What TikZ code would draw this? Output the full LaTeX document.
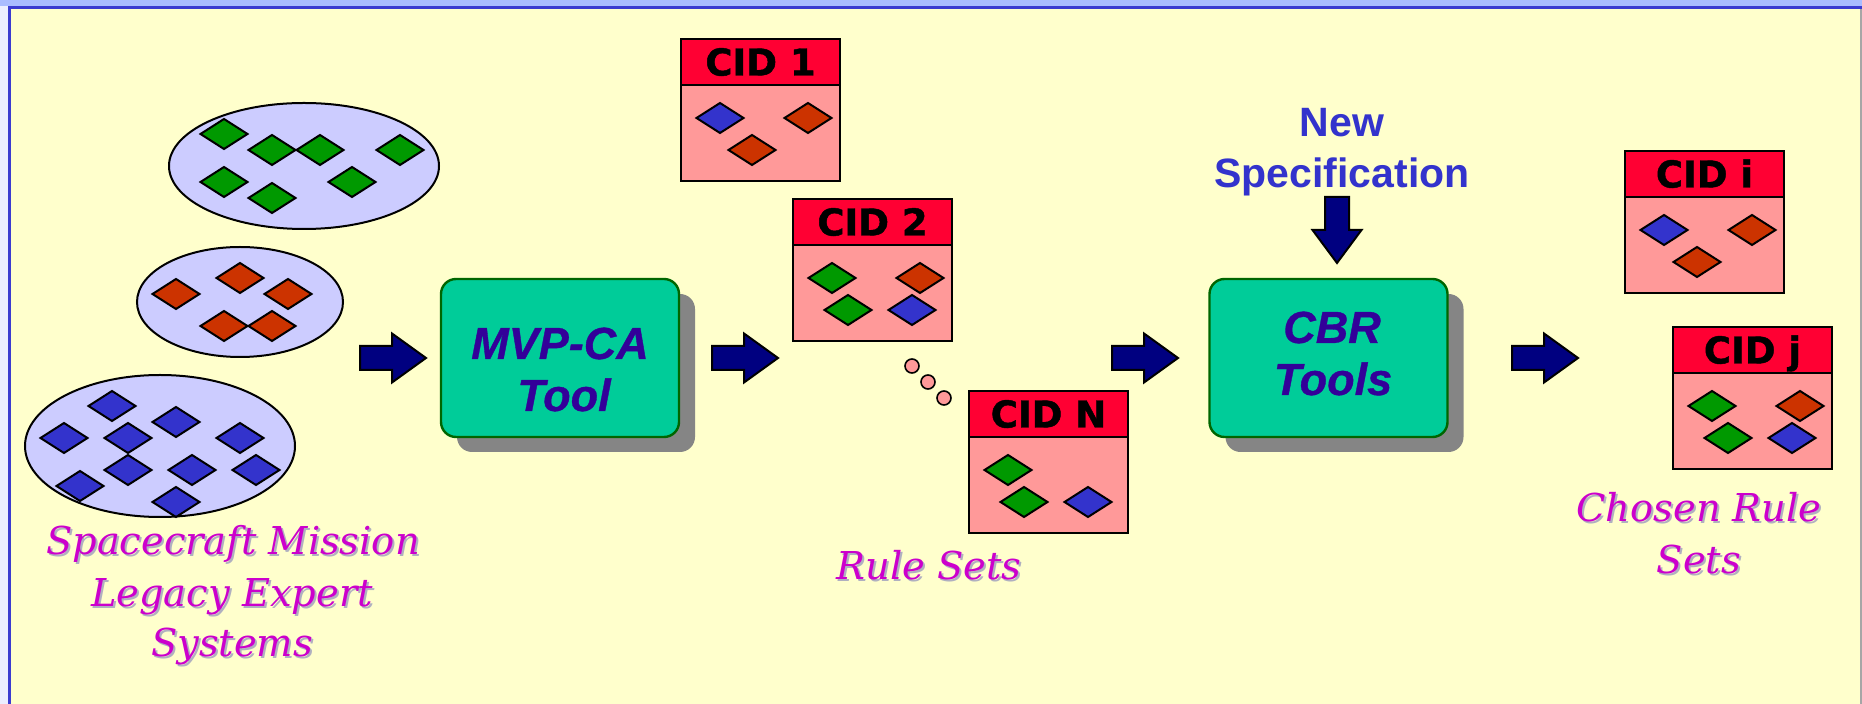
\documentclass[tikz,border=0pt]{standalone}
\usepackage{fontspec}
\setmainfont{Liberation Sans}
\newfontfamily\heavysans{Liberation Sans}[BoldItalicFeatures={FakeBold=0.8}]
\newfontfamily\dvs{DejaVu Sans}[BoldFeatures={FakeBold=1.2}]
\newfontfamily\dvserif{DejaVu Serif}
\usetikzlibrary{shapes.geometric,shadows}
\definecolor{bgy}{HTML}{FFFFCC}
\definecolor{leftc}{HTML}{ECEEFF}
\definecolor{topc}{HTML}{AABCFF}
\definecolor{framec}{HTML}{3B3BD0}
\definecolor{ellfill}{HTML}{CCCCFF}
\definecolor{dgreen}{HTML}{009900}
\definecolor{dred}{HTML}{CC3300}
\definecolor{dblue}{HTML}{3333CC}
\definecolor{boxfill}{HTML}{00CC99}
\definecolor{boxline}{HTML}{006600}
\definecolor{shadowgray}{HTML}{858585}
\definecolor{tooltext}{HTML}{330099}
\definecolor{navy}{HTML}{000080}
\definecolor{cidred}{HTML}{FF0033}
\definecolor{cidpink}{HTML}{FF9999}
\definecolor{magentac}{HTML}{CC00CC}
\definecolor{specc}{HTML}{3333CC}
\definecolor{txtshadow}{HTML}{B0B0C0}
\newcommand\dmd[3]{\filldraw[fill=#3, draw=black, line width=1pt, line join=miter] (#1-23.5,#2) -- (#1,#2-15) -- (#1+23.5,#2) -- (#1,#2+15) -- cycle;}
\newcommand\cidbox[4]{%
  \node[cidb] (#1b) at (#2+79.5,#3+94) {};
  \node[cidh] (#1h) at (#2+79.5,#3+23) {#4};}
\newcommand\shtext[4]{%
  \node[lbl, text=txtshadow] (#1s) at (#2+2,#3+2) {#4};
  \node[lbl] (#1) at (#2,#3) {#4};}
\begin{document}
\begin{tikzpicture}[x=0.5pt,y=-0.5pt,
  ell/.style={ellipse, draw=black, line width=1pt, fill=ellfill, inner sep=0pt},
  tool/.style={draw=boxline, line width=1.2pt, fill=boxfill, rounded corners=7.5pt,
    minimum width=119pt, minimum height=79pt, inner sep=0pt,
    drop shadow={shadow xshift=8pt, shadow yshift=-7.5pt, fill=shadowgray, opacity=1}},
  tooltxt/.style={font=\heavysans\fontsize{22.5}{26}\selectfont\bfseries\itshape, text=tooltext, anchor=base, inner sep=0pt},
  spec/.style={font=\fontsize{20.5}{24}\selectfont\bfseries, text=specc, anchor=base, inner sep=0pt},
  lbl/.style={font=\dvserif\itshape\fontsize{19.2}{23}\selectfont, text=magentac, anchor=base, inner sep=0pt},
  cidh/.style={draw=black, line width=1.2pt, fill=cidred, minimum width=79.5pt, minimum height=23pt,
    inner sep=0pt, text height=13.5pt, text depth=0pt, font=\dvs\bfseries\fontsize{18.5}{20}\selectfont},
  cidb/.style={draw=black, line width=1.2pt, fill=cidpink, minimum width=79.5pt, minimum height=48pt, inner sep=0pt},
  dotc/.style={circle, draw=black, line width=0.8pt, fill=cidpink, minimum size=7pt, inner sep=0pt},
  barrow/.style={fill=navy, draw=black, line width=1pt, line join=miter}]
\useasboundingbox (0,0) rectangle (1862,704);
% frame
\fill[bgy] (0,0) rectangle (1862,704);
\fill[leftc] (0,0) rectangle (8,704);
\fill[topc] (0,0) rectangle (1862,6);
\fill[framec] (8,6) rectangle (11,704);
\fill[framec] (8,6) rectangle (1862,9);
\fill[gray!70] (1860,9) rectangle (1862,704);
% ellipses
\node[ell, minimum width=135pt, minimum height=63pt] (e1) at (304,166) {};
\node[ell, minimum width=103pt, minimum height=55pt] (e2) at (240,302) {};
\node[ell, minimum width=135pt, minimum height=71pt] (e3) at (160,446) {};
\dmd{224}{134}{dgreen}\dmd{272}{150}{dgreen}\dmd{320}{150}{dgreen}\dmd{400}{150}{dgreen}
\dmd{224}{182}{dgreen}\dmd{272}{198}{dgreen}\dmd{352}{182}{dgreen}
\dmd{176}{294}{dred}\dmd{240}{278}{dred}\dmd{288}{294}{dred}\dmd{224}{326}{dred}\dmd{272}{326}{dred}
\dmd{112}{406}{dblue}\dmd{176}{422}{dblue}\dmd{64}{438}{dblue}\dmd{128}{438}{dblue}\dmd{240}{438}{dblue}
\dmd{128}{470}{dblue}\dmd{192}{470}{dblue}\dmd{256}{470}{dblue}\dmd{80}{486}{dblue}\dmd{176}{502}{dblue}
% labels
\shtext{l1}{233}{555}{Spacecraft Mission}
\shtext{l2}{232}{607}{Legacy Expert}
\shtext{l3}{232}{657}{Systems}
\shtext{r1}{929}{580}{Rule Sets}
\shtext{c1}{1699}{522}{Chosen Rule}
\shtext{c2}{1699}{574}{Sets}
% tool boxes
\node[tool] (mvp) at (560,358) {};
\node[tooltxt] (mvpt1) at (560,359) {MVP-CA};
\node[tooltxt] (mvpt2) at (564,411) {Tool};
\node[tool] (cbr) at (1328.5,358) {};
\node[tooltxt] (cbrt1) at (1332,343) {CBR};
\node[tooltxt] (cbrt2) at (1333,395) {Tools};
% new specification
\node[spec] (ns1) at (1342,137) {New};
\node[spec] (ns2) at (1342,188) {Specification};
% CID boxes
\cidbox{cid1}{681}{39}{CID 1}
\dmd{720}{118}{dblue}\dmd{808}{118}{dred}\dmd{752}{150}{dred}
\cidbox{cid2}{793}{199}{CID 2}
\dmd{832}{278}{dgreen}\dmd{920}{278}{dred}\dmd{848}{310}{dgreen}\dmd{912}{310}{dblue}
\cidbox{cidn}{969}{391}{CID N}
\dmd{1008}{470}{dgreen}\dmd{1024}{502}{dgreen}\dmd{1088}{502}{dblue}
\cidbox{cidi}{1625}{151}{CID i}
\dmd{1664}{230}{dblue}\dmd{1752}{230}{dred}\dmd{1697}{262}{dred}
\cidbox{cidj}{1673}{327}{CID j}
\dmd{1712}{406}{dgreen}\dmd{1800}{406}{dred}\dmd{1728}{438}{dgreen}\dmd{1792}{438}{dblue}
% dots
\node[dotc] (d1) at (912,366) {};
\node[dotc] (d2) at (928,382) {};
\node[dotc] (d3) at (944,398) {};
% block arrows
\coordinate (a1) at (360,358);
\coordinate (a2) at (712,358);
\coordinate (a3) at (1112,358);
\coordinate (a4) at (1512,358);
\foreach \a in {a1,a2,a3,a4}{
  \draw[barrow] (\a) ++(0,-12) -- ++(32,0) -- ++(0,-12.5) -- ++(34,24.5) -- ++(-34,24.5) -- ++(0,-12.5) -- ++(-32,0) -- cycle;}
\coordinate (a5) at (1337,197);
\draw[barrow] (a5) ++(-12,0) -- ++(24,0) -- ++(0,33) -- ++(12.5,0) -- ++(-24.5,33) -- ++(-24.5,-33) -- ++(12.5,0) -- cycle;
\end{tikzpicture}
\end{document}
